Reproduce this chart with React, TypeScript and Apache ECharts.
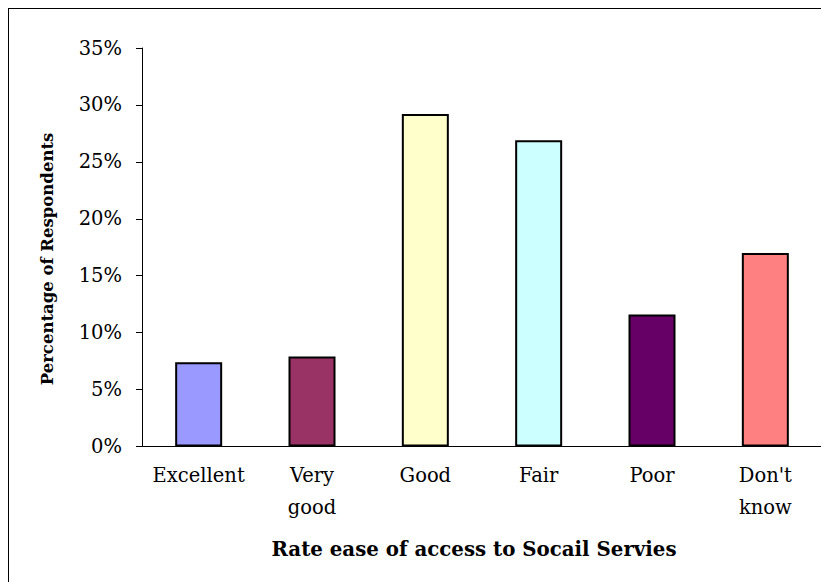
import React, { useEffect, useRef } from "react";
import * as echarts from "echarts";

const categories = ["Excellent", "Very\ngood", "Good", "Fair", "Poor", "Don't\nknow"];
const values = [0.074, 0.079, 0.292, 0.269, 0.116, 0.170];
const barColors = ["#9999FF", "#993366", "#FFFFCC", "#CCFFFF", "#660066", "#FF8080"];
const yTitle = "Percentage of Respondents";
const xTitle = "Rate ease of access to Socail Servies";

const FONT = "'DejaVu Serif', 'Liberation Serif', serif";

export default function App() {
  const ref = useRef<HTMLDivElement>(null);
  useEffect(() => {
    if (!ref.current) return;
    const chart = echarts.init(ref.current, undefined, { renderer: "svg" });
    chart.setOption({
      animation: false,
      backgroundColor: "#ffffff",
      grid: { left: 134, right: 7, top: 40, bottom: 135.5 },
      xAxis: {
        type: "category",
        data: categories,
        axisLine: { lineStyle: { color: "#000", width: 1 } },
        axisTick: { alignWithLabel: false, length: 6, lineStyle: { color: "#000" } },
        axisLabel: {
          color: "#000",
          fontFamily: FONT,
          fontSize: 19.5,
          lineHeight: 32,
          margin: 13,
          interval: 0,
        },
      },
      yAxis: {
        type: "value",
        min: 0,
        max: 0.35,
        interval: 0.05,
        splitLine: { show: false },
        axisLine: { show: true, lineStyle: { color: "#000", width: 1 } },
        axisTick: { show: true, length: 6, lineStyle: { color: "#000" } },
        axisLabel: {
          color: "#000",
          fontFamily: FONT,
          fontSize: 19.5,
          margin: 20,
          formatter: (v: number) => Math.round(v * 100) + "%",
        },
      },
      graphic: [
        {
          type: "rect",
          shape: { x: 0, y: 0, width: 900, height: 700 },
          style: { fill: "none", stroke: "#000", lineWidth: 2 },
          silent: true,
        },
        {
          type: "text",
          x: 39,
          y: 251,
          rotation: Math.PI / 2,
          style: {
            text: yTitle,
            fontFamily: FONT,
            fontWeight: "bold",
            fontSize: 16.5,
            fill: "#000",
            align: "center",
            verticalAlign: "middle",
          },
        },
        {
          type: "text",
          x: 466,
          y: 541,
          style: {
            text: xTitle,
            fontFamily: FONT,
            fontWeight: "bold",
            fontSize: 19.8,
            fill: "#000",
            align: "center",
            verticalAlign: "middle",
          },
        },
      ],
      series: [
        {
          type: "bar",
          barWidth: 47,
          data: values.map((v, i) => ({
            value: v,
            itemStyle: { color: barColors[i], borderColor: "#000", borderWidth: 2 },
          })),
        },
      ],
    });
    return () => chart.dispose();
  }, []);
  return <div ref={ref} style={{ width: 821, height: 574 }} />;
}
